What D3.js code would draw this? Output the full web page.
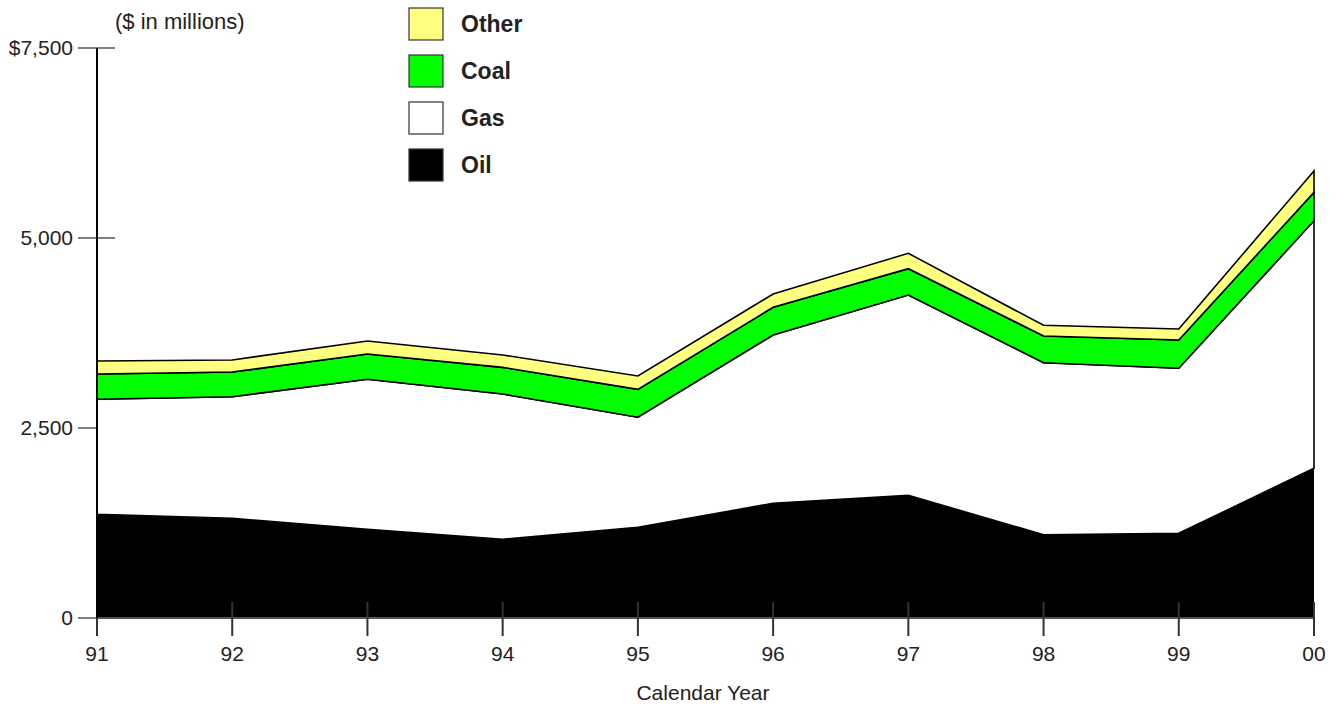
<!DOCTYPE html>
<html>
<head>
<meta charset="utf-8">
<script src="https://cdn.jsdelivr.net/npm/d3@7"></script>
<style>
  html, body { margin: 0; padding: 0; background: #fff; }
  svg { display: block; font-family: "Liberation Sans", Arial, sans-serif; }
</style>
</head>
<body>
<svg id="chart" width="1340" height="707"></svg>
<script>
// Calendar years (two-digit labels) and revenue by fuel type, $ in millions
const years = ["91", "92", "93", "94", "95", "96", "97", "98", "99", "00"];
const oil   = [1364, 1312, 1167, 1036, 1193, 1509, 1614, 1096, 1114, 1970];
const gas   = [1514, 1600, 1974, 1911, 1448, 2215, 2636, 2263, 2172, 3258];
const coal  = [333, 325, 333, 351, 368, 364, 346, 352, 372, 373];
const other = [171, 158, 171, 163, 175, 175, 202, 140, 145, 281];

const yTicks = [0, 2500, 5000, 7500];
const yTickLabels = ["0", "2,500", "5,000", "$7,500"];

const seriesNames = ["Oil", "Gas", "Coal", "Other"];
const seriesColors = { Oil: "#000000", Gas: "#ffffff", Coal: "#00ff00", Other: "#ffff80" };

const rows = years.map((yr, i) => ({
  year: yr, Oil: oil[i], Gas: gas[i], Coal: coal[i], Other: other[i]
}));

const svg = d3.select("#chart");
const plotLeft = 97, plotRight = 1314, plotTop = 48, plotBottom = 618;

const x = d3.scalePoint().domain(years).range([plotLeft, plotRight]);
const y = d3.scaleLinear().domain([0, 7500]).range([plotBottom, plotTop]);

// Y-axis tick marks sit behind the filled areas
svg.append("g").selectAll("line").data(yTicks).join("line")
  .attr("x1", plotLeft - 19).attr("x2", plotLeft + 18)
  .attr("y1", d => y(d)).attr("y2", d => y(d))
  .attr("stroke", "#555").attr("stroke-width", 1.5);

svg.append("g").selectAll("text").data(yTicks).join("text")
  .attr("x", plotLeft - 24).attr("y", d => y(d))
  .attr("dy", "0.35em").attr("text-anchor", "end")
  .attr("font-size", 21).attr("fill", "#222")
  .text((d, i) => yTickLabels[i]);

// Stacked areas
const stack = d3.stack().keys(seriesNames);
const layers = stack(rows);

const area = d3.area()
  .x(d => x(d.data.year))
  .y0(d => y(d[0]))
  .y1(d => y(d[1]));

svg.append("g").selectAll("path").data(layers).join("path")
  .attr("d", area)
  .attr("fill", d => seriesColors[d.key])
  .attr("stroke", d => d.key === "Oil" ? "none" : "#000")
  .attr("stroke-width", 1.6)
  .attr("stroke-linejoin", "miter");

// X axis baseline and ticks
svg.append("line")
  .attr("x1", plotLeft).attr("x2", plotRight)
  .attr("y1", plotBottom).attr("y2", plotBottom)
  .attr("stroke", "#555").attr("stroke-width", 2);

svg.append("g").selectAll("line").data(years).join("line")
  .attr("x1", d => x(d)).attr("x2", d => x(d))
  .attr("y1", plotBottom - 16).attr("y2", plotBottom + 18)
  .attr("stroke", "#333").attr("stroke-width", 2);

svg.append("g").selectAll("text").data(years).join("text")
  .attr("x", d => x(d)).attr("y", plotBottom + 43)
  .attr("text-anchor", "middle")
  .attr("font-size", 21).attr("fill", "#222")
  .text(d => d);

// Y axis line
svg.append("line")
  .attr("x1", plotLeft).attr("x2", plotLeft)
  .attr("y1", plotTop).attr("y2", plotBottom)
  .attr("stroke", "#000").attr("stroke-width", 2);

// Titles
svg.append("text")
  .attr("x", 115).attr("y", 29)
  .attr("font-size", 22).attr("fill", "#222")
  .text("($ in millions)");

svg.append("text")
  .attr("x", 703).attr("y", 700)
  .attr("text-anchor", "middle")
  .attr("font-size", 21).attr("fill", "#222")
  .text("Calendar Year");

// Legend
const legendOrder = ["Other", "Coal", "Gas", "Oil"];
const legend = svg.append("g").selectAll("g").data(legendOrder).join("g")
  .attr("transform", (d, i) => `translate(409, ${8 + i * 47})`);

legend.append("rect")
  .attr("width", 34).attr("height", 32)
  .attr("fill", d => seriesColors[d])
  .attr("stroke", "#333").attr("stroke-width", 1.2);

legend.append("text")
  .attr("x", 52).attr("y", 24)
  .attr("font-size", 23).attr("font-weight", "bold").attr("fill", "#222")
  .text(d => d);
</script>
</body>
</html>
